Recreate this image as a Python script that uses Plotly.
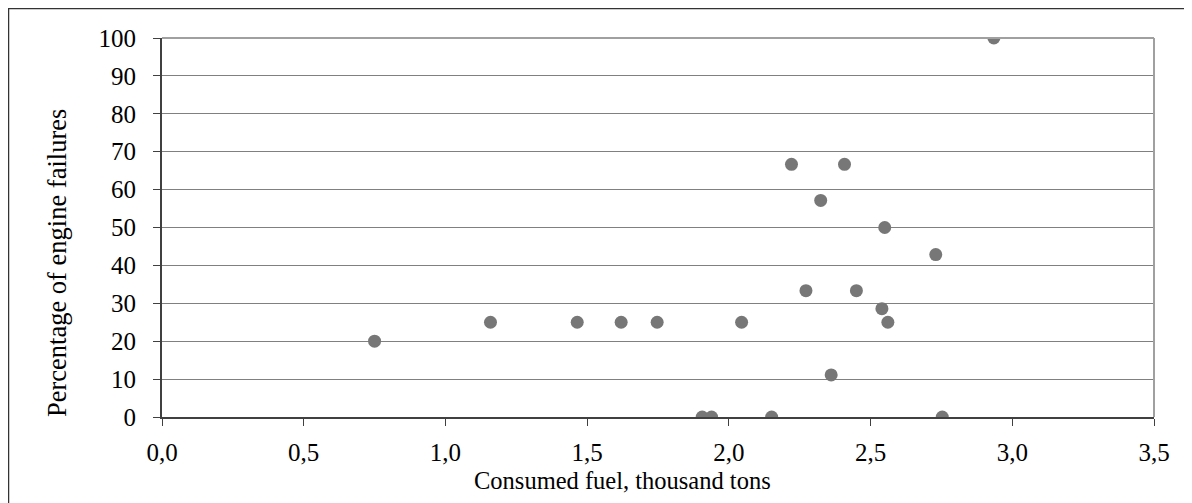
import plotly.graph_objects as go

# Data
fuel_thousand_tons = [0.750, 1.159, 1.465, 1.620, 1.747, 2.045, 1.906, 1.939,
                      2.151, 2.753, 2.361, 2.221, 2.408, 2.324, 2.550, 2.730,
                      2.272, 2.450, 2.540, 2.561, 2.935]
failure_percent = [20, 25, 25, 25, 25, 25, 0, 0,
                   0, 0, 11.11, 66.67, 66.67, 57.14, 50, 42.86,
                   33.33, 33.33, 28.57, 25, 100]

x_ticks = [0, 0.5, 1.0, 1.5, 2.0, 2.5, 3.0, 3.5]
x_tick_labels = ["0,0", "0,5", "1,0", "1,5", "2,0", "2,5", "3,0", "3,5"]
y_ticks = list(range(0, 101, 10))

# page is drawn with an 8px body margin, so the figure is 8px smaller
W, H = 1184, 495
L, R, T, B = 154, 38, 30, 86

family = "Liberation Serif, Times New Roman, serif"
tick_font = dict(family=family, size=25, color="black")
xtitle_font = dict(family=family, size=24.5, color="black")
ytitle_font = dict(family=family, size=26.5, color="black")

fig = go.Figure()
fig.add_trace(go.Scatter(
    x=fuel_thousand_tons, y=failure_percent, mode="markers",
    marker=dict(size=13, color="#777777", line=dict(width=0)),
    showlegend=False, hoverinfo="x+y",
))

pw = W - L - R
ph = H - T - B

def px_to_paper_x(px):
    return (px - L) / pw

def px_to_paper_y(py):
    return (H - B - py) / ph

fig.update_layout(
    width=W, height=H,
    margin=dict(l=L, r=R, t=T, b=B, pad=0),
    paper_bgcolor="white", plot_bgcolor="white",
    font=tick_font,
    xaxis=dict(
        range=[0, 3.5], tickvals=x_ticks, ticktext=x_tick_labels,
        showgrid=False, zeroline=False,
        showline=True, linecolor="#404040", linewidth=2,
        ticks="outside", ticklen=7, tickwidth=1, tickcolor="#404040",
        ticklabelstandoff=5,
        tickfont=tick_font,
    ),
    yaxis=dict(
        range=[0, 100], tickvals=y_ticks,
        showgrid=True, gridcolor="#808080", gridwidth=1,
        zeroline=False,
        showline=True, linecolor="#404040", linewidth=2,
        ticks="outside", ticklen=7, tickwidth=1, tickcolor="#404040",
        ticklabelstandoff=12,
        tickfont=tick_font,
    ),
    annotations=[
        dict(text="Consumed fuel, thousand tons", xref="paper", yref="paper",
             x=px_to_paper_x(614), y=px_to_paper_y(472), xanchor="center", yanchor="middle",
             showarrow=False, font=xtitle_font),
        dict(text="Percentage of engine failures", xref="paper", yref="paper",
             x=px_to_paper_x(48.5), y=px_to_paper_y(255.5), xanchor="center", yanchor="middle",
             textangle=-90, showarrow=False, font=ytitle_font),
    ],
    shapes=[
        dict(type="line", xref="paper", yref="paper", x0=1, x1=1, y0=0, y1=1,
             line=dict(color="#A0A0A0", width=2)),
        dict(type="line", xref="paper", yref="paper", x0=0, x1=1, y0=1, y1=1,
             line=dict(color="#A0A0A0", width=2)),
        dict(type="rect", xref="paper", yref="paper",
             x0=px_to_paper_x(0.5), x1=px_to_paper_x(1200),
             y0=px_to_paper_y(510), y1=px_to_paper_y(0.5),
             line=dict(color="#333333", width=1.5), layer="below"),
    ],
)

fig.write_html("out.html")
